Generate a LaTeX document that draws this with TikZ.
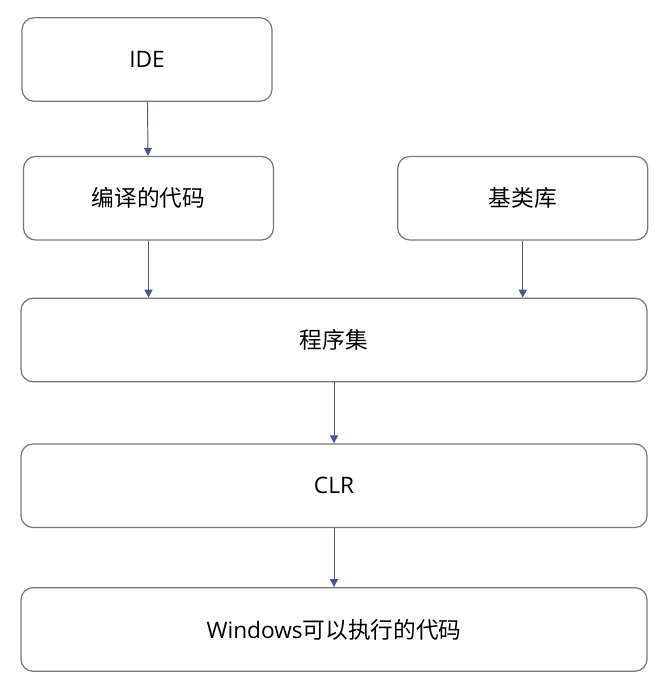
\documentclass[tikz,border=0pt]{standalone}
\usepackage{fontspec}
\setmainfont{Open Sans}
\newfontfamily\cjk{Noto Sans CJK SC}
\usetikzlibrary{arrows.meta, positioning}

\definecolor{boxgray}{RGB}{120,120,120}
\definecolor{arrowblue}{RGB}{72,88,135}

\begin{document}
\begin{tikzpicture}[->, >={Triangle[width=4.5pt,length=4.5pt]}, line width=0.55pt,
                    draw=arrowblue, font=\fontsize{12.9}{15}\selectfont]
  \tikzstyle{every node}=[draw=boxgray, line width=0.7pt, rounded corners=0.24cm,
                          minimum height=1.67cm, text=black, inner sep=0pt]
  \tikzstyle{smallbox}=[minimum width=5cm]
  \tikzstyle{widebox}=[minimum width=12.52cm]

  \useasboundingbox (0,0) rectangle (13.28,-13.56);

  \node[smallbox] (ide)  at (2.94,-1.19)              {IDE};
  \node[smallbox] (comp) [below=1.08cm of ide, xshift=0.03cm] {\cjk 编译的代码};
  \node[smallbox] (lib)  [right=2.46cm of comp]       {\cjk 基类库};
  \node[widebox]  (asm)  at (6.68,-6.8)               {\cjk 程序集};
  \node[widebox]  (clr)  [below=1.22cm of asm]        {CLR};
  \node[widebox]  (win)  [below=1.18cm of clr]        {Windows{\cjk 可以执行的代码}};

  \draw[arrowblue] (ide)         -- (comp);
  \draw[arrowblue] (comp.south)  -- (comp.south |- asm.north);
  \draw[arrowblue] (lib.south)   -- (lib.south |- asm.north);
  \draw[arrowblue] (asm)         -- (clr);
  \draw[arrowblue] (clr)         -- (win);
\end{tikzpicture}
\end{document}
